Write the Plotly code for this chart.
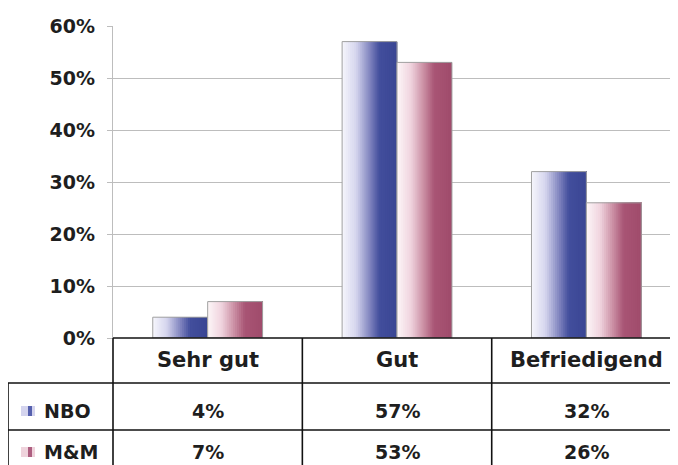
import plotly.graph_objects as go

categories = ["Sehr gut", "Gut", "Befriedigend"]
series_names = ["NBO", "M&M"]
nbo_values = [4, 57, 32]
mm_values = [7, 53, 26]
y_ticks = [0, 10, 20, 30, 40, 50, 60]

FONT = "DejaVu Sans"
TXT = "#1e1e1e"

# gradient stops (position, rgb) for each series
grad_nbo = [(0.0, (246, 246, 252)), (0.25, (214, 214, 238)), (0.5, (130, 134, 192)),
            (0.68, (66, 78, 156)), (1.0, (58, 70, 148))]
grad_mm = [(0.0, (253, 246, 248)), (0.25, (240, 212, 222)), (0.5, (200, 138, 160)),
           (0.68, (168, 84, 116)), (1.0, (160, 76, 108))]


def interp(stops, t):
    for (p0, c0), (p1, c1) in zip(stops[:-1], stops[1:]):
        if p0 <= t <= p1:
            f = (t - p0) / (p1 - p0)
            c = [round(a + (b - a) * f) for a, b in zip(c0, c1)]
            return f"rgb({c[0]},{c[1]},{c[2]})"
    c = stops[-1][1]
    return f"rgb({c[0]},{c[1]},{c[2]})"


fig = go.Figure()
BW = 0.29
N = 28
for vals, base, stops in [(nbo_values, -BW, grad_nbo), (mm_values, 0.0, grad_mm)]:
    for k in range(N):
        fig.add_trace(go.Bar(
            x=categories, y=vals,
            offset=base + k * BW / N, width=BW * (1 - k / N),
            marker=dict(color=interp(stops, (k + 0.5) / N), line=dict(width=0)),
            showlegend=False, hoverinfo="skip"))
    fig.add_trace(go.Bar(
        x=categories, y=vals, offset=base, width=BW,
        marker=dict(color="rgba(0,0,0,0)", line=dict(color="#a0a0a0", width=1)),
        showlegend=False, hoverinfo="skip"))

H = 312.0  # plot height in px
W = 562.0  # plot width in px


def py(px):
    return (338 - px) / H


def pxx(px):
    return (px - 113) / W


shapes = []
line = dict(color="#111111", width=1.6)
# right border of plot area
shapes.append(dict(type="line", xref="paper", yref="paper", x0=1, x1=1, y0=0, y1=1,
                   line=dict(color="#c8c8c8", width=1)))
# table horizontal lines
shapes.append(dict(type="line", xref="paper", yref="paper", x0=0, x1=1.02, y0=0, y1=0, line=line))
shapes.append(dict(type="line", xref="paper", yref="paper", x0=pxx(8), x1=1.02,
                   y0=py(383), y1=py(383), line=line))
shapes.append(dict(type="line", xref="paper", yref="paper", x0=pxx(8), x1=1.02,
                   y0=py(430), y1=py(430), line=line))
# table vertical lines
shapes.append(dict(type="line", xref="paper", yref="paper", x0=pxx(8), x1=pxx(8),
                   y0=py(383), y1=py(480), line=line))
shapes.append(dict(type="line", xref="paper", yref="paper", x0=0, x1=0,
                   y0=0, y1=py(480), line=line))
for b in [0.5, 1.5]:
    shapes.append(dict(type="line", xref="x", yref="paper", x0=b, x1=b,
                       y0=0, y1=py(480), line=line))

# legend keys
for yc, light, dark in [(411, "#d4d4ee", "#5560ad"), (452, "#efd3dc", "#ad5f80")]:
    shapes.append(dict(type="rect", xref="paper", yref="paper", x0=pxx(21), x1=pxx(35),
                       y0=py(yc - 5), y1=py(yc + 5), fillcolor=light, line=dict(width=0)))
    shapes.append(dict(type="rect", xref="paper", yref="paper", x0=pxx(28), x1=pxx(32),
                       y0=py(yc - 5), y1=py(yc + 5), fillcolor=dark, line=dict(width=0)))

annotations = []
for c in categories:
    annotations.append(dict(x=c, y=py(360), xref="x", yref="paper", text=c, showarrow=False,
                            xanchor="center", yanchor="middle",
                            font=dict(family=FONT, size=21, weight="bold", color=TXT)))
for name, vals, yc in [(series_names[0], nbo_values, 411), (series_names[1], mm_values, 452)]:
    annotations.append(dict(x=pxx(42), y=py(yc), xref="paper", yref="paper", text=name,
                            showarrow=False, xanchor="left", yanchor="middle",
                            font=dict(family=FONT, size=19, weight="bold", color=TXT)))
    for c, v in zip(categories, vals):
        annotations.append(dict(x=c, y=py(yc), xref="x", yref="paper", text=f"{v}%",
                                showarrow=False, xanchor="center", yanchor="middle",
                                font=dict(family=FONT, size=19, weight="bold", color=TXT)))

# the page body adds an 8px margin, so the figure is sized to the visible area
fig.update_layout(
    width=670, height=457,
    margin=dict(l=105, r=3, t=18, b=127),
    paper_bgcolor="white", plot_bgcolor="white",
    barmode="overlay",
    xaxis=dict(range=[-0.5, 2.468], showticklabels=False, showgrid=False,
               zeroline=False, showline=False, ticks=""),
    yaxis=dict(range=[0, 60], tickvals=y_ticks, ticktext=[f"{t}%" for t in y_ticks],
               showgrid=True, gridcolor="#bdbdbd", gridwidth=1.4,
               zeroline=False, showline=True, linecolor="#bdbdbd", linewidth=1.2,
               ticks="outside", ticklen=5, tickcolor="#bdbdbd", ticklabelstandoff=8,
               tickfont=dict(family=FONT, size=19, weight="bold", color=TXT)),
    shapes=shapes, annotations=annotations,
)

fig.write_html("out.html")
